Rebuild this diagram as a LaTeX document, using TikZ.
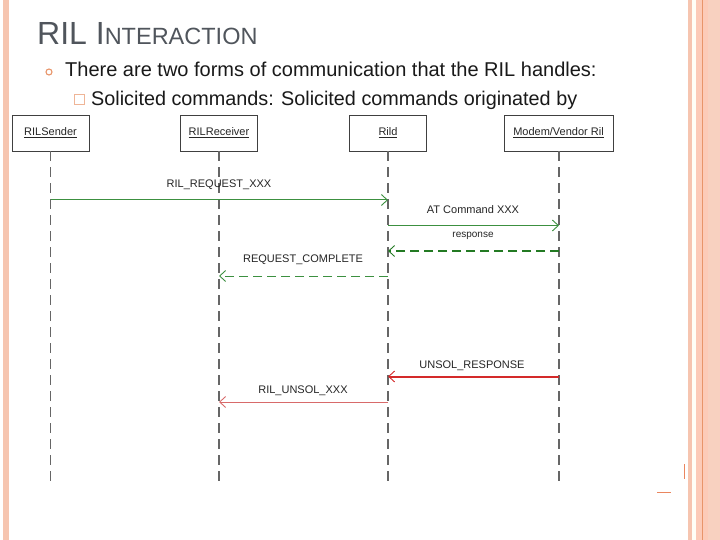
\documentclass[tikz,border=0pt]{standalone}
\usepackage{fontspec}
\setmainfont{Liberation Sans}
\usetikzlibrary{arrows.meta}
\definecolor{salmon}{HTML}{F6C5B0}
\definecolor{salmonL}{HTML}{FCCBB8}
\definecolor{orangeL}{HTML}{E8956A}
\definecolor{titlegray}{HTML}{50555C}
\definecolor{msggreen}{HTML}{3C9040}
\definecolor{msggreenD}{HTML}{237A23}
\definecolor{msgred}{HTML}{D42A2A}
\definecolor{msgredL}{HTML}{D86A6A}
\tikzset{
  actor/.style={draw=black!75, line width=0.9pt, minimum width=77pt, minimum height=36pt, inner sep=0pt, font=\fontsize{11}{13}\selectfont, text=black!85},
  lifeline/.style={draw=black!60, line width=1.2pt, dash pattern=on 10pt off 6pt},
  msglabel/.style={font=\fontsize{11}{13}\selectfont, text=black!85},
  tip/.style={-{Straight Barb[length=6pt,width=11pt,line width=0.9pt]}},
  callmsg/.style={tip, draw=msggreen, line width=1pt},
  retmsg/.style={tip, draw=msggreenD, line width=2pt, dash pattern=on 9pt off 5pt},
  retthin/.style={tip, draw=msggreen, line width=1pt, dash pattern=on 9pt off 5pt},
  unsolthick/.style={tip, draw=msgred, line width=2pt},
  unsolthin/.style={tip, draw=msgredL, line width=1pt},
}
\begin{document}
\begin{tikzpicture}[x=1pt,y=-1pt]
\useasboundingbox (0,0) rectangle (720,540);
\fill[white] (0,0) rectangle (720,540);
% borders
\fill[salmon] (3,0) rectangle (9,540);
\fill[salmon] (688,0) rectangle (692,540);
\fill[white!70!yellow!10] (692,0) rectangle (696,540);
\fill[salmonL] (696,0) rectangle (720,540);
\fill[salmon!80!white] (708,0) rectangle (720,540);
\draw[orangeL, line width=1pt] (702,0) -- (702,540);
% little orange remnants
\draw[orangeL!90!red, line width=1.5pt] (684.5,464) -- (684.5,479);
\draw[orangeL!90!red, line width=1.2pt] (657,492.5) -- (671,492.5);

% title and text
\node[anchor=base west, inner sep=0pt, text=titlegray] (title) at (37,45)
  {{\fontsize{32}{36}\selectfont RIL I}{\fontsize{23.5}{28}\selectfont NTERACTION}};
\node[draw=orangeL, line width=1.1pt, circle, minimum size=6pt, inner sep=0pt] (bul) at (49,72) {};
\node[anchor=base west, inner sep=0pt, font=\fontsize{20}{24}\selectfont, text=black!90] (l1) at (65,77)
  {There are two forms of communication that the RIL handles:};
\node[draw=orangeL!70!white, line width=0.8pt, minimum size=10pt, inner sep=0pt] (box2) at (79.5,99.5) {};
\node[anchor=base west, inner sep=0pt, font=\fontsize{19.8}{24}\selectfont, text=black!90] (l2) at (91,106)
  {Solicited commands: Solicited commands originated by};

% actors
\node[actor, fill=white] (s) at (50.5,133) {\underline{RILSender}};
\node[actor, fill=white] (r) at (219,133) {\underline{RILReceiver}};
\node[actor, fill=white] (d) at (388,133) {\underline{Rild}};
\node[actor, fill=white, minimum width=109pt] (m) at (558.5,133) {\underline{Modem/Vendor Ril}};

% lifelines
\coordinate (se) at (50.5,484);
\coordinate (re) at (219,484);
\coordinate (de) at (388,484);
\coordinate (me) at (559,484);
\draw[lifeline] (s.south) -- (se);
\draw[lifeline] (r.south) -- (re);
\draw[lifeline] (d.south) -- (de);
\draw[lifeline] (m.south -| me) -- (me);

% message anchor points
\coordinate (s1) at (50.5,200);  \coordinate (d1) at (388,200);
\coordinate (d2) at (388,225.5); \coordinate (m2) at (559,225.5);
\coordinate (m3) at (559,251);   \coordinate (d3) at (388,251);
\coordinate (d4) at (388,276);   \coordinate (r4) at (219,276);
\coordinate (m5) at (559,376.5); \coordinate (d5) at (388,376.5);
\coordinate (d6) at (388,402);   \coordinate (r6) at (219,402);

\draw[callmsg] (s1) -- (d1);
\node[msglabel] (t1) at (219,185) {RIL\_REQUEST\_XXX};
\draw[callmsg] (d2) -- (m2);
\node[msglabel] (t2) at (473,210) {AT Command XXX};
\draw[retmsg] (m3) -- (d3);
\node[msglabel, font=\fontsize{10}{12}\selectfont] (t3) at (473,236) {response};
\draw[retthin] (d4) -- (r4);
\node[msglabel] (t4) at (303,260) {REQUEST\_COMPLETE};
\draw[unsolthick] (m5) -- (d5);
\node[msglabel] (t5) at (472,366) {UNSOL\_RESPONSE};
\draw[unsolthin] (d6) -- (r6);
\node[msglabel] (t6) at (303,391) {RIL\_UNSOL\_XXX};
\end{tikzpicture}
\end{document}
